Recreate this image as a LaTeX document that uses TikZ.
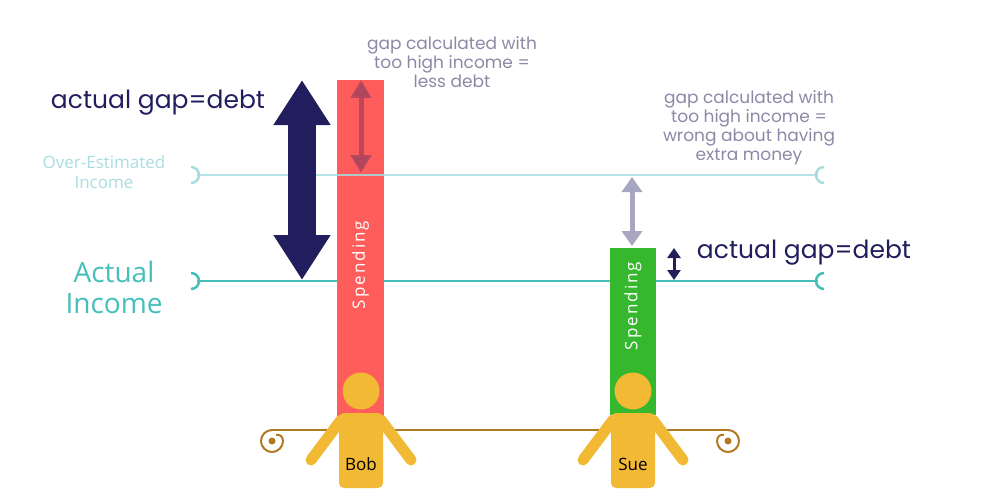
\documentclass[tikz,border=0pt]{standalone}
\usepackage{fontspec}
\setmainfont{Open Sans}
\newfontfamily\hand{Poppins}
\usetikzlibrary{arrows.meta}
\definecolor{navy}{HTML}{221E5E}
\definecolor{lteal}{HTML}{A8DDE0}
\definecolor{teal}{HTML}{45BFBC}
\definecolor{redbar}{HTML}{FF5C5C}
\definecolor{greenbar}{HTML}{36B82E}
\definecolor{skin}{HTML}{F2B934}
\definecolor{brown}{HTML}{B07A22}
\definecolor{gtext}{HTML}{8C88A6}
\definecolor{garrow}{HTML}{A9A6C2}
\definecolor{darkred}{HTML}{A8445E}
\tikzset{
 handtxt/.style={font=\hand\fontsize{17}{19}\selectfont,text=gtext,align=center},
 bigtxt/.style={font=\hand\fontsize{25}{27}\selectfont,text=navy},
 person/.style={fill=skin,draw=none},
 spendtxt/.style={rotate=90,text=white,font=\fontsize{17}{18}\selectfont\addfontfeature{LetterSpace=12}},
}
\begin{document}
\begin{tikzpicture}[x=1pt,y=-1pt]
\useasboundingbox (0,0) rectangle (1000,500);
% bars
\node[fill=redbar,minimum width=47pt,minimum height=340pt,inner sep=0] (rbar) at (360.5,250) {};
\node[fill=greenbar,minimum width=46pt,minimum height=167pt,inner sep=0] (gbar) at (633,331.5) {};
\node[spendtxt] (sp1) at (360.5,265) {Spending};
\node[spendtxt] (sp2) at (633,306) {Spending};
% income lines
\coordinate (oa) at (197,175); \coordinate (ob) at (818,175);
\coordinate (aa) at (197,281); \coordinate (ab) at (818,281);
\draw[lteal,line width=2.5pt,opacity=.85] (oa) -- (ob);
\draw[lteal,line width=2.5pt] (oa) ++(-6,-8) arc (90:-90:8 and -8);
\draw[lteal,line width=2.5pt] (ob) ++(6,-8) arc (90:270:8 and -8);
\draw[teal,line width=2.5pt] (aa) -- (rbar.west |- aa);
\draw[teal,line width=2.5pt] (rbar.east |- aa) -- (gbar.west |- aa);
\draw[teal,line width=2.5pt] (gbar.east |- aa) -- (ab);
\draw[teal,line width=2.5pt] (aa) ++(-6,-8) arc (90:-90:8 and -8);
\draw[teal,line width=2.5pt] (ab) ++(6,-8) arc (90:270:8 and -8);
% labels
\node[text=lteal,font=\fontsize{17}{20}\selectfont,align=center] (oe) at (104,172) {Over-Estimated\\Income};
\node[text=teal,font=\fontsize{28}{31}\selectfont,align=center] (ai) at (114,287) {Actual\\Income};
% arrows
\coordinate (b1) at (302,80); \coordinate (b2) at (302,280);
\draw[navy,line width=28pt,{Triangle[length=45pt,width=54pt]}-{Triangle[length=45pt,width=54pt]}] (b1) -- (b2);
\coordinate (r1) at (361,80); \coordinate (r2) at (361,173);
\draw[darkred,opacity=.8,line width=5pt,{Triangle[length=18pt,width=20pt]}-{Triangle[length=18pt,width=20pt]}] (r1) -- (r2);
\coordinate (g1) at (632,177); \coordinate (g2) at (632,246);
\draw[garrow,line width=5pt,{Triangle[length=15pt,width=20pt]}-{Triangle[length=15pt,width=20pt]}] (g1) -- (g2);
\coordinate (n1) at (674,248); \coordinate (n2) at (674,280);
\draw[navy,line width=3pt,{Triangle[length=10pt,width=13pt]}-{Triangle[length=10pt,width=13pt]}] (n1) -- (n2);
\node[bigtxt] (t1) at (158,103) {actual gap=debt};
\node[bigtxt] (t2) at (804,253) {actual gap=debt};
\node[handtxt] (t3) at (452,62) {gap calculated with\\too high income =\\less debt};
\node[handtxt] (t4) at (749,128) {gap calculated with\\too high income =\\wrong about having\\extra money};
% ground line with curls
\coordinate (la) at (272,430); \coordinate (lb) at (728,430);
\draw[brown,line width=2pt] (la) -- (lb);
\draw[brown,line width=2pt] (la) .. controls (266,430) and (261,435) .. (261,441)
  .. controls (261,447) and (266,452) .. (272,452)
  .. controls (278,452) and (283,447) .. (283,441)
  .. controls (283,436) and (279,434) .. (276,435);
\draw[brown,line width=2pt] (lb) .. controls (734,430) and (739,435) .. (739,441)
  .. controls (739,447) and (734,452) .. (728,452)
  .. controls (722,452) and (717,447) .. (717,441)
  .. controls (717,436) and (721,434) .. (724,435);
\fill[brown] (272,441) circle (3.5);
\fill[brown] (728,441) circle (3.5);
% people
\foreach \n/\x/\lab in {bob/361/Bob,sue/633/Sue}{
 \fill[person] (\x,391) circle (18.5);
 \draw[skin,line width=11pt,line cap=round] (\x-20,420) -- (\x-50,460);
 \draw[skin,line width=11pt,line cap=round] (\x+20,420) -- (\x+50,460);
 \node[person,rounded corners=5pt,minimum width=44pt,minimum height=75pt,inner sep=0] (\n) at (\x,450.5) {};
 \node[font=\fontsize{17}{18}\selectfont] at (\x,464) {\lab};
}
\end{tikzpicture}
\end{document}
